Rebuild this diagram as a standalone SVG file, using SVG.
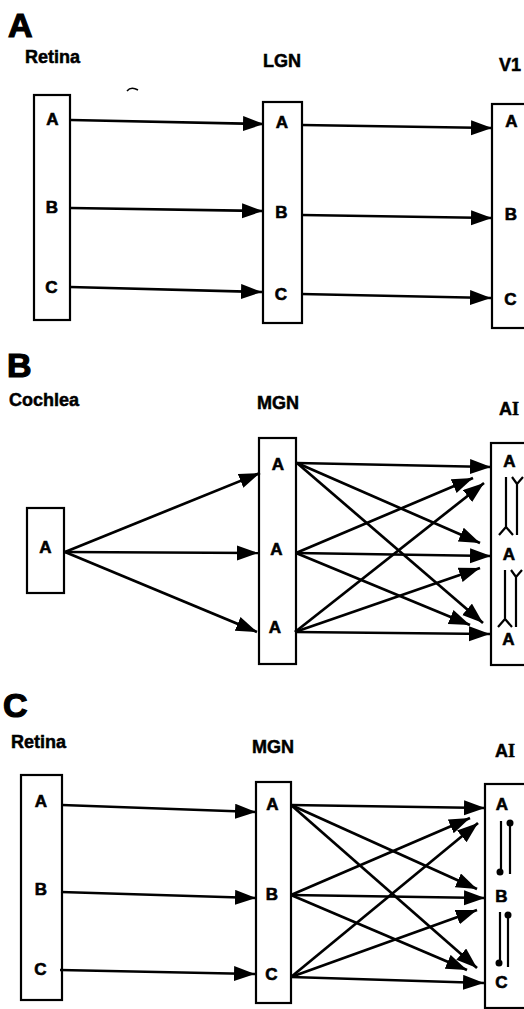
<svg xmlns="http://www.w3.org/2000/svg" width="524" height="1009" viewBox="0 0 524 1009">
<style>
.box{fill:#fff;stroke:#000;stroke-width:2.2}
.title{font-family:"Liberation Sans",Arial,sans-serif;font-weight:bold;font-size:34px;fill:#000;stroke:#000;stroke-width:1.2}
.lab{font-family:"Liberation Sans",Arial,sans-serif;font-weight:bold;font-size:18px;fill:#000;stroke:#000;stroke-width:0.5}
.nl{font-family:"Liberation Sans",Arial,sans-serif;font-weight:bold;font-size:17px;fill:#000;stroke:#000;stroke-width:0.6;text-anchor:middle}
.ser{font-family:"Liberation Serif","Times New Roman",serif}
.con line{stroke:#000;stroke-width:2.7;marker-end:url(#ah)}
.sym{fill:none;stroke:#000;stroke-width:2.2}
</style>
<defs>
<marker id="ah" markerUnits="userSpaceOnUse" markerWidth="22" markerHeight="16" refX="21" refY="7.5" orient="auto">
<path d="M0,0 L21,7.5 L0,15 z" fill="#000"/>
</marker>
</defs>
<rect width="524" height="1009" fill="#fff"/>

<!-- Panel titles and labels -->
<g id="labels">
<text class="title" x="8" y="37">A</text>
<text class="lab" x="25" y="63">Retina</text>
<text class="lab" x="263" y="67">LGN</text>
<text class="lab" x="499" y="71">V1</text>
<text class="title" x="7" y="377">B</text>
<text class="lab" x="9" y="406">Cochlea</text>
<text class="lab" x="257" y="409">MGN</text>
<text class="lab" x="499" y="415">A<tspan class="ser">I</tspan></text>
<text class="title" x="3" y="717">C</text>
<text class="lab" x="11" y="748">Retina</text>
<text class="lab" x="252" y="753">MGN</text>
<text class="lab" x="495" y="757">A<tspan class="ser">I</tspan></text>
</g>
<path d="M127,91 Q131,86 138,90" fill="none" stroke="#000" stroke-width="1.5"/>

<!-- Panel A nodes -->
<g id="A-retina">
<rect class="box" x="34" y="95" width="36" height="225"/>
<text class="nl" x="52.5" y="125">A</text>
<text class="nl" x="52" y="213">B</text>
<text class="nl" x="51.5" y="293">C</text>
</g>
<g id="A-lgn">
<rect class="box" x="263" y="102" width="39" height="221"/>
<text class="nl" x="282" y="128">A</text>
<text class="nl" x="281.5" y="218">B</text>
<text class="nl" x="281" y="300">C</text>
</g>
<g id="A-v1">
<rect class="box" x="492" y="104" width="50" height="224"/>
<text class="nl" x="511.5" y="127">A</text>
<text class="nl" x="511" y="220">B</text>
<text class="nl" x="510.5" y="305">C</text>
</g>

<!-- Panel B nodes -->
<g id="B-cochlea">
<rect class="box" x="27" y="508" width="37" height="85"/>
<text class="nl" x="45.5" y="553">A</text>
</g>
<g id="B-mgn">
<rect class="box" x="259" y="438" width="37" height="226"/>
<text class="nl" x="278" y="470">A</text>
<text class="nl" x="276.5" y="555">A</text>
<text class="nl" x="275" y="633">A</text>
</g>
<g id="B-ai">
<rect class="box" x="491" y="443" width="50" height="222"/>
<text class="nl" x="509.5" y="467">A</text>
<text class="nl" x="509" y="560">A</text>
<text class="nl" x="508.5" y="645">A</text>
<path class="sym" d="M506,477 V527 M499,535 L506,527 L513,535 M512,477 L517,484 L523,477 M517,484 V535"/>
<path class="sym" d="M505,570 V619 M498,627 L505,619 L512,627 M511,570 L516,577 L522,570 M516,577 V627"/>
</g>

<!-- Panel C nodes -->
<g id="C-retina">
<rect class="box" x="21" y="775" width="41" height="225"/>
<text class="nl" x="41" y="807">A</text>
<text class="nl" x="41" y="895">B</text>
<text class="nl" x="40.5" y="975">C</text>
</g>
<g id="C-mgn">
<rect class="box" x="256" y="782" width="35" height="221"/>
<text class="nl" x="272.5" y="810">A</text>
<text class="nl" x="272" y="900">B</text>
<text class="nl" x="271.5" y="980">C</text>
</g>
<g id="C-ai">
<rect class="box" x="485" y="784" width="56" height="224"/>
<text class="nl" x="502" y="810">A</text>
<text class="nl" x="501.5" y="902">B</text>
<text class="nl" x="501.5" y="988">C</text>
<path class="sym" d="M501,821 V870 M510,823 V874 M500,912 V961 M508,915 V967"/>
<circle cx="500" cy="872" r="3.5"/>
<circle cx="510" cy="823" r="3.5"/>
<circle cx="499" cy="963" r="3.5"/>
<circle cx="508" cy="915" r="3.5"/>
</g>

<!-- Connectors -->
<g id="connectors" class="con">
<line x1="71" y1="120" x2="264" y2="124"/>
<line x1="71" y1="208" x2="263" y2="211"/>
<line x1="70" y1="287" x2="262" y2="292"/>
<line x1="302" y1="125" x2="492" y2="128"/>
<line x1="302" y1="215" x2="492" y2="218"/>
<line x1="301" y1="294" x2="491" y2="298"/>

<line x1="65" y1="552" x2="260" y2="473"/>
<line x1="65" y1="552" x2="258" y2="553"/>
<line x1="65" y1="552" x2="257" y2="632"/>
<line x1="297" y1="463" x2="491" y2="467"/>
<line x1="297" y1="463" x2="480" y2="543"/>
<line x1="297" y1="463" x2="483" y2="623"/>
<line x1="296" y1="553" x2="473" y2="478"/>
<line x1="296" y1="553" x2="491" y2="556"/>
<line x1="296" y1="553" x2="470" y2="625"/>
<line x1="295" y1="632" x2="484" y2="483"/>
<line x1="295" y1="632" x2="480" y2="568"/>
<line x1="295" y1="632" x2="490" y2="634"/>

<line x1="62" y1="805" x2="256" y2="812"/>
<line x1="61" y1="892" x2="256" y2="898"/>
<line x1="60" y1="970" x2="255" y2="974"/>
<line x1="291" y1="805" x2="485" y2="808"/>
<line x1="291" y1="805" x2="477" y2="889"/>
<line x1="291" y1="805" x2="477" y2="968"/>
<line x1="291" y1="895" x2="470" y2="818"/>
<line x1="291" y1="895" x2="485" y2="898"/>
<line x1="291" y1="895" x2="467" y2="970"/>
<line x1="291" y1="977" x2="478" y2="823"/>
<line x1="291" y1="977" x2="477" y2="910"/>
<line x1="291" y1="977" x2="484" y2="983"/>
</g>
</svg>
